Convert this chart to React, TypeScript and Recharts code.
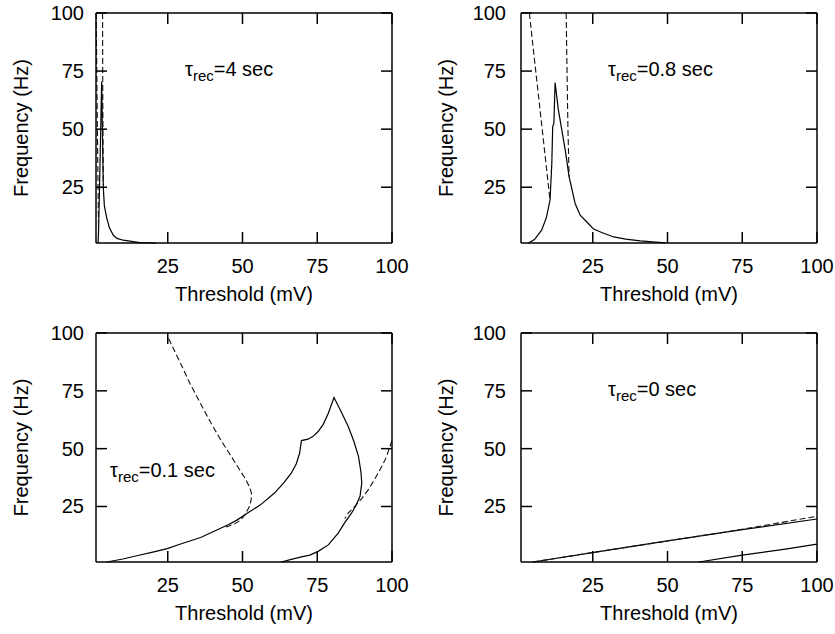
import React from 'react'
import { LineChart, Line, XAxis, YAxis } from 'recharts'

type Pt = { x: number; y: number }

const X_TICKS = [25, 50, 75, 100]
const Y_TICKS = [25, 50, 75, 100]
const DOMAIN: [number, number] = [1, 100]

// tau_rec = 4 sec
const P1_SOLID: Pt[] = [
  { x: 1.7, y: 1 }, { x: 1.85, y: 6 }, { x: 2.1, y: 20 }, { x: 2.5, y: 45 }, { x: 2.9, y: 70.5 },
  { x: 3.2, y: 45 }, { x: 3.45, y: 24.5 }, { x: 3.8, y: 17 }, { x: 4.6, y: 11.7 }, { x: 5.5, y: 7.5 },
  { x: 6.8, y: 4.3 }, { x: 8, y: 3 }, { x: 10.1, y: 2.2 }, { x: 15.7, y: 1.2 }, { x: 21, y: 1 },
]
const P1_DASH_L: Pt[] = [
  { x: 1.05, y: 100 }, { x: 1.3, y: 70 }, { x: 1.55, y: 40 }, { x: 1.75, y: 18 }, { x: 1.85, y: 8 },
]
const P1_DASH_R: Pt[] = [
  { x: 3.2, y: 100 }, { x: 3.25, y: 70 }, { x: 3.35, y: 45 }, { x: 3.45, y: 26 },
]

// tau_rec = 0.8 sec
const P2_SOLID: Pt[] = [
  { x: 3.5, y: 1 }, { x: 5.5, y: 2.5 }, { x: 7.9, y: 6.5 }, { x: 9.5, y: 12 }, { x: 10.7, y: 19.4 },
  { x: 11.3, y: 35 }, { x: 11.6, y: 51 }, { x: 12.0, y: 52.5 }, { x: 12.4, y: 70 }, { x: 13.5, y: 58.3 },
  { x: 15.8, y: 41 }, { x: 17.1, y: 29.5 }, { x: 19.1, y: 18 }, { x: 20.8, y: 13 }, { x: 23.5, y: 9.4 },
  { x: 25.3, y: 7 }, { x: 28, y: 5.5 }, { x: 32, y: 3.6 }, { x: 36, y: 2.7 }, { x: 40.9, y: 1.9 },
  { x: 45, y: 1.5 }, { x: 49.3, y: 1.1 },
]
const P2_DASH_L: Pt[] = [
  { x: 3.8, y: 100 }, { x: 5.5, y: 80 }, { x: 7.4, y: 58 }, { x: 9.2, y: 37 }, { x: 10.7, y: 19.4 },
]
const P2_DASH_R: Pt[] = [
  { x: 16.1, y: 100 }, { x: 16.4, y: 75 }, { x: 16.7, y: 50 }, { x: 17.1, y: 29.5 },
]

// tau_rec = 0.1 sec
const P3_SOLID: Pt[] = [
  { x: 4.6, y: 1 }, { x: 10, y: 2.3 }, { x: 15, y: 3.8 }, { x: 20, y: 5.3 }, { x: 24.8, y: 6.8 },
  { x: 29.3, y: 8.8 }, { x: 36, y: 11.6 }, { x: 40.5, y: 14.3 }, { x: 45, y: 17 }, { x: 48, y: 19 },
  { x: 51.7, y: 22.2 }, { x: 56, y: 25.7 }, { x: 60.7, y: 30.8 }, { x: 64, y: 35.5 }, { x: 66.3, y: 39.4 },
  { x: 68, y: 43.5 }, { x: 69.1, y: 48 }, { x: 69.7, y: 53.5 }, { x: 71.9, y: 54.1 }, { x: 73.5, y: 55.2 },
  { x: 75.3, y: 57.4 }, { x: 77, y: 60.5 }, { x: 78.7, y: 65.3 }, { x: 80.6, y: 72.1 }, { x: 83, y: 66 },
  { x: 85.4, y: 59.5 }, { x: 87.3, y: 53 }, { x: 88.8, y: 46.6 }, { x: 89.6, y: 40 }, { x: 89.9, y: 35.2 },
  { x: 89.3, y: 29.4 }, { x: 88, y: 25.5 }, { x: 86.5, y: 22.2 }, { x: 84.2, y: 18 }, { x: 82, y: 13.5 },
  { x: 78.7, y: 8.4 }, { x: 75.3, y: 5.6 }, { x: 72.5, y: 4 }, { x: 69.7, y: 3.2 }, { x: 66, y: 2 },
  { x: 63, y: 1 },
]
const P3_DASH_L: Pt[] = [
  { x: 25.3, y: 97.6 }, { x: 29.3, y: 86.8 }, { x: 32.5, y: 78 }, { x: 36, y: 69.4 }, { x: 39.5, y: 61 },
  { x: 42.8, y: 53.6 }, { x: 45.8, y: 47.5 }, { x: 48.4, y: 42.2 }, { x: 50.7, y: 37.5 }, { x: 52.3, y: 33.6 },
  { x: 53, y: 30.8 }, { x: 52.9, y: 28 }, { x: 52.3, y: 25 }, { x: 51, y: 21.8 }, { x: 49.5, y: 19.2 },
  { x: 47.5, y: 17.6 }, { x: 45.5, y: 16.6 }, { x: 44, y: 16 },
]
const P3_DASH_R: Pt[] = [
  { x: 100, y: 53.5 }, { x: 98, y: 46 }, { x: 96.6, y: 42.4 }, { x: 94.3, y: 37 }, { x: 92.1, y: 32.3 },
  { x: 89.8, y: 28.3 }, { x: 87.6, y: 25.1 }, { x: 85.4, y: 22.2 }, { x: 84.2, y: 19.8 },
]

// tau_rec = 0 sec
const P4_SOLID_UP: Pt[] = [
  { x: 5, y: 1 }, { x: 27, y: 5.5 }, { x: 50, y: 10.1 }, { x: 75, y: 15 }, { x: 100, y: 19.6 },
]
const P4_SOLID_LOW: Pt[] = [
  { x: 60.5, y: 1 }, { x: 75, y: 4 }, { x: 90, y: 6.7 }, { x: 100, y: 8.7 },
]
const P4_DASH: Pt[] = [
  { x: 5, y: 1 }, { x: 27, y: 5.5 }, { x: 50, y: 10.1 }, { x: 70, y: 14.1 }, { x: 85, y: 17.4 }, { x: 100, y: 20.8 },
]

const FONT = '"Liberation Sans", Arial, Helvetica, sans-serif'
const INK = '#000'
const TICK_LEN = 11

type Series = { pts: Pt[]; dashed?: boolean }

interface PanelProps {
  left: number
  top: number
  width: number
  height: number
  mt: number
  mr: number
  yw: number
  xh: number
  labelGap: number
  series: Series[]
  tau: string
  tauX: number
  tauY: number
}

const bottomLabel = (t: any) => (
  <text x={t.x} y={t.y + 30} textAnchor="middle" fontSize={20} fontFamily={FONT} fill={INK}>
    {t.payload.value}
  </text>
)

function Panel(p: PanelProps) {
  const plotL = p.yw
  const plotT = p.mt
  const plotW = p.width - p.yw - p.mr
  const plotH = p.height - p.mt - p.xh
  const plotB = plotT + plotH
  const plotR = plotL + plotW
  const axisLine = { stroke: INK, strokeWidth: 1.5 }

  // tick marks on the frame (gnuplot draws them inward, mirrored on all sides)
  const span = DOMAIN[1] - DOMAIN[0]
  const tx = (v: number) => plotL + ((v - DOMAIN[0]) / span) * plotW
  const ty = (v: number) => plotB - ((v - DOMAIN[0]) / span) * plotH

  const leftLabel = (t: any) => (
    <text x={t.x - p.labelGap} y={t.y + 7} textAnchor="end" fontSize={20} fontFamily={FONT} fill={INK}>
      {t.payload.value}
    </text>
  )

  return (
    <div style={{ position: 'absolute', left: p.left, top: p.top, width: p.width, height: p.height }}>
      <LineChart width={p.width} height={p.height}
        margin={{ top: p.mt - 1, right: p.mr - 1, bottom: 0, left: 0 }}>
        <XAxis dataKey="x" type="number" domain={DOMAIN} ticks={X_TICKS} interval={0} height={p.xh}
          tickLine={false} tickSize={0} tickMargin={0} axisLine={axisLine} tick={bottomLabel} />
        <XAxis xAxisId="top" orientation="top" dataKey="x" type="number" domain={DOMAIN} ticks={X_TICKS}
          interval={0} height={1} tickLine={false} axisLine={axisLine} tick={false} />
        <YAxis type="number" domain={DOMAIN} ticks={Y_TICKS} interval={0} width={p.yw}
          tickLine={false} tickSize={0} tickMargin={0} axisLine={axisLine} tick={leftLabel} />
        <YAxis yAxisId="right" orientation="right" type="number" domain={DOMAIN} ticks={Y_TICKS}
          interval={0} width={1} tickLine={false} axisLine={axisLine} tick={false} />
        {p.series.map((s, i) => (
          <Line key={i} data={s.pts} dataKey="y" type="linear"
            xAxisId={s.dashed ? 'top' : 0} yAxisId={s.dashed ? 'right' : 0}
            stroke={s.dashed ? '#111' : INK} strokeWidth={s.dashed ? 1.1 : 1.2}
            strokeDasharray={s.dashed ? '6 3' : undefined} dot={false} activeDot={false}
            isAnimationActive={false} />
        ))}
      </LineChart>
      <svg width={p.width} height={p.height} style={{ position: 'absolute', left: 0, top: 0, pointerEvents: 'none' }}>
        <g stroke={INK} strokeWidth={1.5}>
          {X_TICKS.map((v) => (
            <g key={`x${v}`}>
              <line x1={tx(v)} y1={plotB} x2={tx(v)} y2={plotB - TICK_LEN} />
              <line x1={tx(v)} y1={plotT} x2={tx(v)} y2={plotT + TICK_LEN} />
            </g>
          ))}
          {Y_TICKS.map((v) => (
            <g key={`y${v}`}>
              <line x1={plotL} y1={ty(v)} x2={plotL + TICK_LEN} y2={ty(v)} />
              <line x1={plotR} y1={ty(v)} x2={plotR - TICK_LEN} y2={ty(v)} />
            </g>
          ))}
        </g>
        <g fontFamily={FONT} fill={INK}>
          <text x={plotL + plotW / 2} y={plotB + 58} textAnchor="middle" fontSize={20}>
            Threshold (mV)
          </text>
          <text
            x={plotL - 68}
            y={plotT + plotH / 2}
            textAnchor="middle"
            fontSize={20}
            transform={`rotate(-90 ${plotL - 68} ${plotT + plotH / 2})`}
          >
            Frequency (Hz)
          </text>
          <text x={plotL + p.tauX} y={plotT + p.tauY} fontSize={20}>
            <tspan>τ</tspan>
            <tspan dy={5} fontSize={15}>rec</tspan>
            <tspan dy={-5}>{p.tau}</tspan>
          </text>
        </g>
      </svg>
    </div>
  )
}

export default function App() {
  return (
    <div style={{ position: 'absolute', left: 0, top: 0, width: 835, height: 634, background: '#fff' }}>
      <Panel left={0} top={0} width={417} height={317} mt={13} mr={25} yw={96} xh={74} labelGap={12}
        series={[{ pts: P1_SOLID }, { pts: P1_DASH_L, dashed: true }, { pts: P1_DASH_R, dashed: true }]}
        tau="=4 sec" tauX={89} tauY={63} />
      <Panel left={417} top={0} width={418} height={317} mt={13} mr={18} yw={104} xh={74} labelGap={15}
        series={[{ pts: P2_SOLID }, { pts: P2_DASH_L, dashed: true }, { pts: P2_DASH_R, dashed: true }]}
        tau="=0.8 sec" tauX={87} tauY={63} />
      <Panel left={0} top={317} width={417} height={317} mt={16} mr={25} yw={96} xh={72} labelGap={12}
        series={[{ pts: P3_SOLID }, { pts: P3_DASH_L, dashed: true }, { pts: P3_DASH_R, dashed: true }]}
        tau="=0.1 sec" tauX={14} tauY={144} />
      <Panel left={417} top={317} width={418} height={317} mt={16} mr={18} yw={104} xh={72} labelGap={15}
        series={[{ pts: P4_SOLID_UP }, { pts: P4_DASH, dashed: true }, { pts: P4_SOLID_LOW }]}
        tau="=0 sec" tauX={87} tauY={63} />
    </div>
  )
}
